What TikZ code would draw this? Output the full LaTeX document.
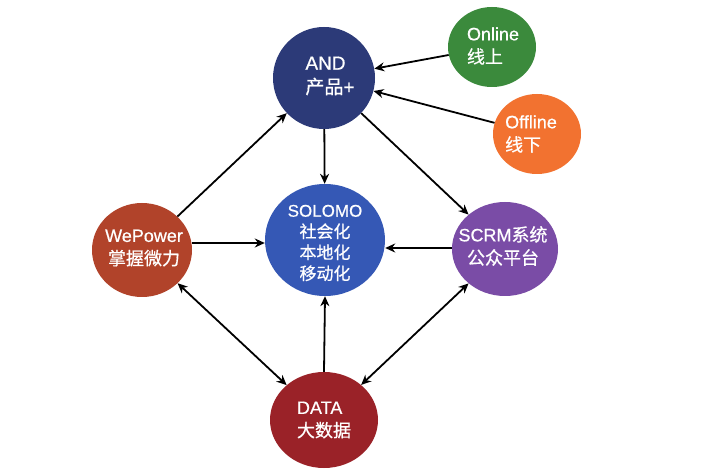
\documentclass[tikz,border=0pt]{standalone}
\usepackage{fontspec}
\setmainfont{Liberation Sans}[FakeBold=0.6]
\newfontfamily\cjk{Noto Sans CJK SC}[FakeBold=0.6]
\usetikzlibrary{shapes.geometric,arrows.meta}
\definecolor{cand}{HTML}{2C3A78}
\definecolor{conl}{HTML}{3B8A3C}
\definecolor{coff}{HTML}{F27230}
\definecolor{csol}{HTML}{3558B5}
\definecolor{cwep}{HTML}{B1432A}
\definecolor{cscr}{HTML}{7A4CA6}
\definecolor{cdat}{HTML}{9A2228}
\tikzset{
  blob/.style={ellipse, inner sep=0pt, draw=none},
  lbl/.style={text=white, inner sep=0pt, font=\fontsize{18}{23}\selectfont},
  conn/.style={line width=1.8pt, black, -{Stealth[length=10pt,width=9pt]}},
  conn2/.style={line width=1.8pt, black, {Stealth[length=10pt,width=9pt]}-{Stealth[length=10pt,width=9pt]}}
}
\begin{document}
\begin{tikzpicture}[x=1pt,y=-1pt]
\useasboundingbox[fill=white] (0,0) rectangle (710,470);
\node[blob, fill=cand, minimum width=102pt, minimum height=102pt] (and) at (324,78) {};
\node[blob, fill=conl, minimum width=88pt, minimum height=80pt] (onl) at (492,47) {};
\node[blob, fill=coff, minimum width=88pt, minimum height=80pt] (off) at (537,134) {};
\node[blob, fill=csol, minimum width=120pt, minimum height=112pt] (sol) at (325,240) {};
\node[blob, fill=cwep, minimum width=100pt, minimum height=94pt] (wep) at (142,250) {};
\node[blob, fill=cscr, minimum width=106pt, minimum height=94pt] (scr) at (505,249) {};
\node[blob, fill=cdat, minimum width=108pt, minimum height=96pt] (dat) at (324,420) {};

\node[lbl, align=left, font=\fontsize{19}{24}\selectfont] (tand) at (330,76) {AND\\{\cjk 产品}+};
\node[lbl, align=left] (tonl) at (493,46) {Online\\{\cjk 线上}};
\node[lbl, align=left] (toff) at (531,134) {Offline\\{\cjk 线下}};
\node[lbl, align=center, font=\fontsize{17}{21}\selectfont] (tsol) at (325,243) {SOLOMO\\{\cjk 社会化}\\{\cjk 本地化}\\{\cjk 移动化}};
\node[lbl, align=center] (twep) at (144,248) {WePower\\{\cjk 掌握微力}};
\node[lbl, align=center] (tscr) at (503,246) {SCRM{\cjk 系统}\\{\cjk 公众平台}};
\node[lbl, align=left] (tdat) at (324,420) {DATA\\{\cjk 大数据}};

\draw[conn] (wep) -- (and);
\draw[conn] (and) -- (sol);
\draw[conn] (and) -- (scr);
\draw[conn] (onl) -- (and);
\draw[conn] (off) -- (and);
\draw[conn] (wep.east |- 0,243) -- (sol.west |- 0,243);
\draw[conn] (scr.west |- 0,248) -- (sol.east |- 0,248);
\draw[conn] (dat.north) -- (sol.south);
\draw[conn2] (wep) -- (dat);
\draw[conn2] (dat) -- (scr);
\end{tikzpicture}
\end{document}
